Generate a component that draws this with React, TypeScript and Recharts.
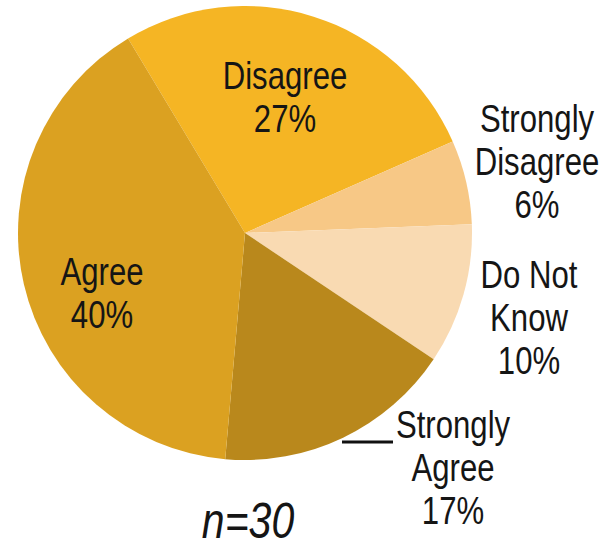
import { PieChart, Pie, Cell } from "recharts";

const RESPONSES = ["Disagree", "Strongly Disagree", "Do Not Know", "Strongly Agree", "Agree"];
const PERCENTS = [27, 6, 10, 17, 40];
// how each name is broken over lines in the label
const NAME_LINES = [["Disagree"], ["Strongly", "Disagree"], ["Do Not", "Know"], ["Strongly", "Agree"], ["Agree"]];
const SAMPLE_SIZE = 30;

const COLORS = ["#F5B524", "#F7C886", "#F9DAB2", "#B9881C", "#DBA121"];

// label anchor (centre x, first baseline y) relative to the pie centre
const LABEL_OFFSET = [
  { dx: 40, dy: -144 },
  { dx: 292, dy: -101 },
  { dx: 284, dy: 55 },
  { dx: 208, dy: 205 },
  { dx: -143, dy: 52 },
];

// no narrow face installed, so squeeze the regular one
const FONT = '"Liberation Sans Narrow", "Liberation Sans", Arial, sans-serif';
const SQUEEZE = 0.82;
const LINE = 43;

const data = RESPONSES.map((name, i) => ({ name, value: PERCENTS[i] }));

function SliceLabel(props: any) {
  const { cx, cy, index, value } = props;
  const off = LABEL_OFFSET[index];
  const x = cx + off.dx;
  const y = cy + off.dy;
  const lines = [...NAME_LINES[index], `${value}%`];
  return (
    <g>
      {index === 3 && (
        <line x1={cx + 97} y1={cy + 209} x2={cx + 148} y2={cy + 209} stroke="#111" strokeWidth={3} />
      )}
      <g transform={`translate(${x},${y}) scale(${SQUEEZE},1)`}>
        <text x={0} y={0} textAnchor="middle" fontFamily={FONT} fontSize={38} fill="#151515">
          {lines.map((l, k) => (
            <tspan key={k} x={0} y={k * LINE}>
              {l}
            </tspan>
          ))}
        </text>
      </g>
    </g>
  );
}

export default function App() {
  return (
    <div style={{ position: "absolute", left: 0, top: 0, width: 615, height: 549, background: "#fff" }}>
      <PieChart width={615} height={549} margin={{ top: 0, right: 0, bottom: 0, left: 0 }}>
        <Pie
          data={data}
          dataKey="value"
          nameKey="name"
          cx={245}
          cy={233}
          outerRadius={227}
          startAngle={121}
          endAngle={-239}
          stroke="none"
          labelLine={false}
          label={SliceLabel}
          isAnimationActive={false}
        >
          {data.map((d, i) => (
            <Cell key={d.name} fill={COLORS[i]} />
          ))}
        </Pie>
        <g transform={`translate(248,538) scale(${SQUEEZE},1)`}>
          <text x={0} y={0} textAnchor="middle" fontFamily={FONT} fontStyle="italic" fontSize={50} fill="#151515">
            {`n=${SAMPLE_SIZE}`}
          </text>
        </g>
      </PieChart>
    </div>
  );
}
